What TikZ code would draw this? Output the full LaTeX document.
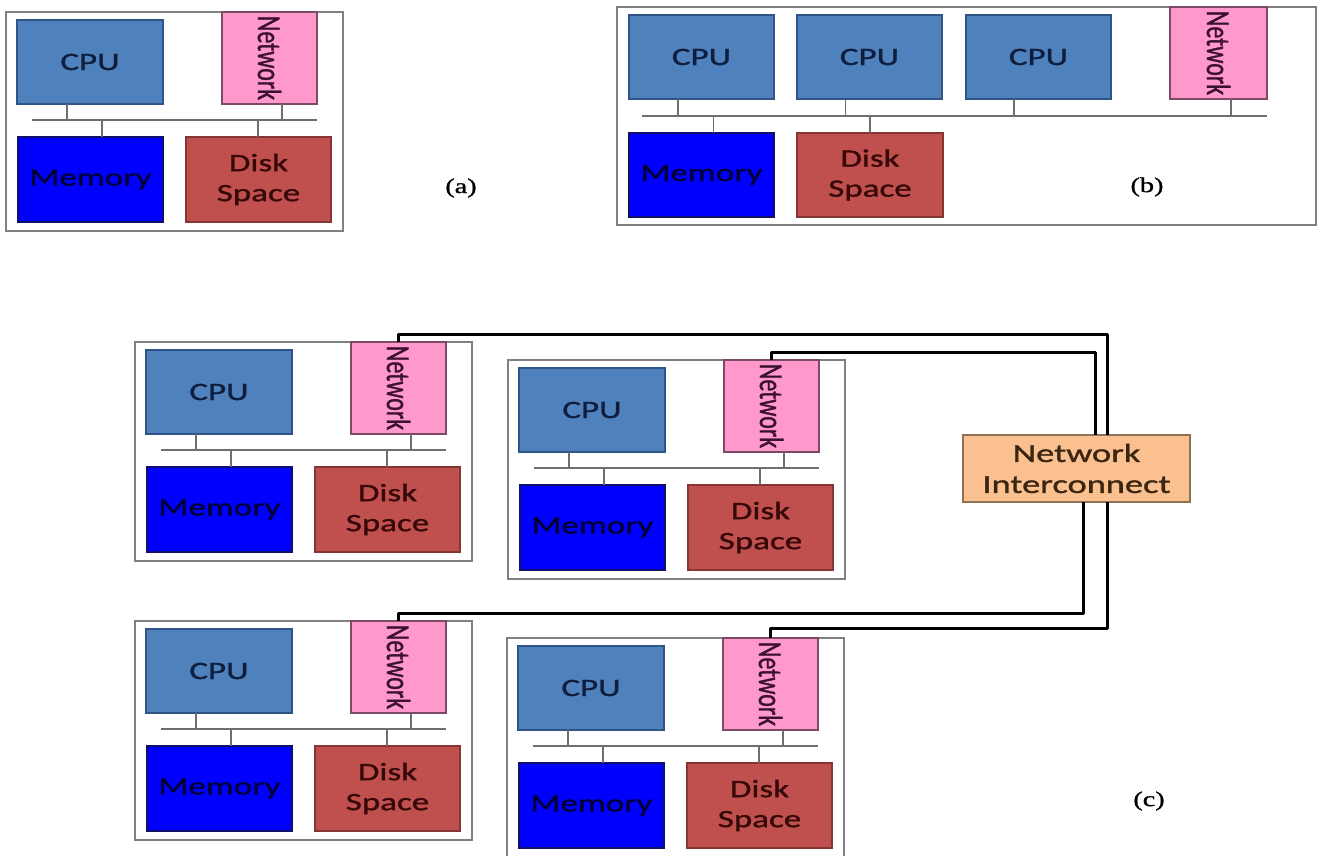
\documentclass[tikz,border=0pt]{standalone}
\usepackage{fontspec}
\setmainfont{Liberation Serif}[FakeStretch=1.35,FakeBold=1]
\newfontfamily\boxfont[FakeStretch=1.4,FakeBold=1.2]{Carlito}
\newfontfamily\vfont[FakeBold=1.2]{Carlito}
\usetikzlibrary{calc}
\definecolor{cpuF}{HTML}{4F81BD}
\definecolor{cpuD}{HTML}{2E5585}
\definecolor{cpuT}{HTML}{0E1E3C}
\definecolor{netF}{HTML}{FF99CC}
\definecolor{netD}{HTML}{7A4A66}
\definecolor{netT}{HTML}{3C1030}
\definecolor{memF}{HTML}{0000FF}
\definecolor{memD}{HTML}{10106A}
\definecolor{memT}{HTML}{000036}
\definecolor{diskF}{HTML}{C0504D}
\definecolor{diskD}{HTML}{853533}
\definecolor{diskT}{HTML}{360808}
\definecolor{icF}{HTML}{FAC090}
\definecolor{icD}{HTML}{8E7256}
\definecolor{icT}{HTML}{3A2510}
\definecolor{boxD}{HTML}{808080}
\definecolor{busD}{HTML}{6E6E6E}
\tikzset{
  part/.style={draw, line width=1.3pt, inner sep=0pt, outer sep=0pt,
    font=\boxfont\fontsize{25}{30}\selectfont, align=center},
  cpu/.style={part, fill=cpuF, draw=cpuD, text=cpuT, minimum width=146pt, minimum height=84pt},
  net/.style={part, fill=netF, draw=netD, text=netT, minimum width=95pt, minimum height=92pt},
  mem/.style={part, fill=memF, draw=memD, text=memT, minimum width=145pt, minimum height=85pt},
  disk/.style={part, fill=diskF, draw=diskD, text=diskT, minimum width=145pt, minimum height=85pt},
  icbox/.style={part, fill=icF, draw=icD, text=icT, minimum width=227pt, minimum height=67pt,
    font=\boxfont\fontsize{26}{31}\selectfont},
  mbox/.style={draw=boxD, line width=1.5pt, fill=white, inner sep=0pt, outer sep=0pt},
  bus/.style={draw=busD, line width=2pt},
  stub/.style={draw=busD, line width=1.8pt},
  wire/.style={draw=black, line width=3pt, line join=round},
  tag/.style={font=\fontsize{21}{24}\selectfont, text=black}
}
\newcommand\netlabel{\rotatebox{-90}{\scalebox{1}[1.4]{\vfont\fontsize{24}{28}\selectfont Network}}}
\newcommand\machine[3]{%
\begin{scope}[shift={(#2,#3)}]
  \node[mbox, anchor=north west, minimum width=337pt, minimum height=219pt] (#1-box) at (0,0) {};
  \node[cpu, anchor=north west] (#1-cpu) at (11,8) {CPU};
  \node[net, anchor=north west] (#1-net) at (216,0) {\netlabel};
  \node[mem, anchor=north west] (#1-mem) at (12,125) {Memory};
  \node[disk, anchor=north west] (#1-disk) at (180,125) {Disk\\Space};
  \coordinate (#1-bl) at (26,108);
  \coordinate (#1-br) at (311,108);
  \draw[bus] (#1-bl) -- (#1-br);
  \coordinate (#1-cs) at ([xshift=-23pt]#1-cpu.south);
  \coordinate (#1-ns) at ([xshift=12.5pt]#1-net.south);
  \coordinate (#1-mn) at ([xshift=11.5pt]#1-mem.north);
  \coordinate (#1-dn) at ([xshift=-0.5pt]#1-disk.north);
  \draw[stub] (#1-cs) -- (#1-cs |- #1-bl);
  \draw[stub] (#1-ns) -- (#1-ns |- #1-bl);
  \draw[stub] (#1-mn) -- (#1-mn |- #1-bl);
  \draw[stub] (#1-dn) -- (#1-dn |- #1-bl);
\end{scope}}
\begin{document}
\begin{tikzpicture}[x=1pt,y=-1pt]
\useasboundingbox[fill=white] (0,0) rectangle (1322,855);

% panel (a)
\machine{a}{6}{12}
\node[tag] (taga) at (461,188) {(a)};

% panel (b)
\node[mbox, anchor=north west, minimum width=699pt, minimum height=218pt] (b-box) at (617,7) {};
\node[cpu, anchor=north west, minimum width=145pt] (b-cpu1) at (629,15) {CPU};
\node[cpu, anchor=north west, minimum width=145pt] (b-cpu2) at (797,15) {CPU};
\node[cpu, anchor=north west, minimum width=145pt] (b-cpu3) at (966,15) {CPU};
\node[net, anchor=north west, minimum width=97pt] (b-net) at (1170,7) {\netlabel};
\node[mem, anchor=north west, minimum height=84pt] (b-mem) at (629,133) {Memory};
\node[disk, anchor=north west, minimum width=146pt, minimum height=84pt] (b-disk) at (797,133) {Disk\\Space};
\coordinate (b-bl) at (642,116);
\coordinate (b-br) at (1267,116);
\draw[bus] (b-bl) -- (b-br);
\coordinate (b-c1) at ([xshift=-23.5pt]b-cpu1.south);
\coordinate (b-c2) at ([xshift=-24pt]b-cpu2.south);
\coordinate (b-c3) at ([xshift=-24.5pt]b-cpu3.south);
\coordinate (b-ns) at ([xshift=12.5pt]b-net.south);
\coordinate (b-mn) at ([xshift=12pt]b-mem.north);
\coordinate (b-dn) at ([xshift=0pt]b-disk.north);
\foreach \p in {b-c1,b-c2,b-c3,b-ns,b-mn,b-dn}{\draw[stub] (\p) -- (\p |- b-bl);}
\node[tag] (tagb) at (1147,187) {(b)};

% panel (c)
\machine{c1}{135}{342}
\machine{c2}{508}{360}
\machine{c3}{135}{621}
\machine{c4}{507}{638}
\node[icbox] (ic) at (1076.5,468.5) {Network\\Interconnect};
\coordinate (j1) at (1107,334);
\coordinate (j2) at (1095,352);
\coordinate (j3) at (1083,613);
\coordinate (j4) at (1107,628);
\draw[wire] (c1-net.north) |- (j1) -- (j1 |- ic.north);
\draw[wire] (c2-net.north) |- (j2) -- (j2 |- ic.north);
\draw[wire] (j3 |- ic.south) -- (j3) -| (c3-net.north);
\draw[wire] (j4 |- ic.south) -- (j4) -| (c4-net.north);
\node[tag] (tagc) at (1149,801) {(c)};
\end{tikzpicture}
\end{document}
